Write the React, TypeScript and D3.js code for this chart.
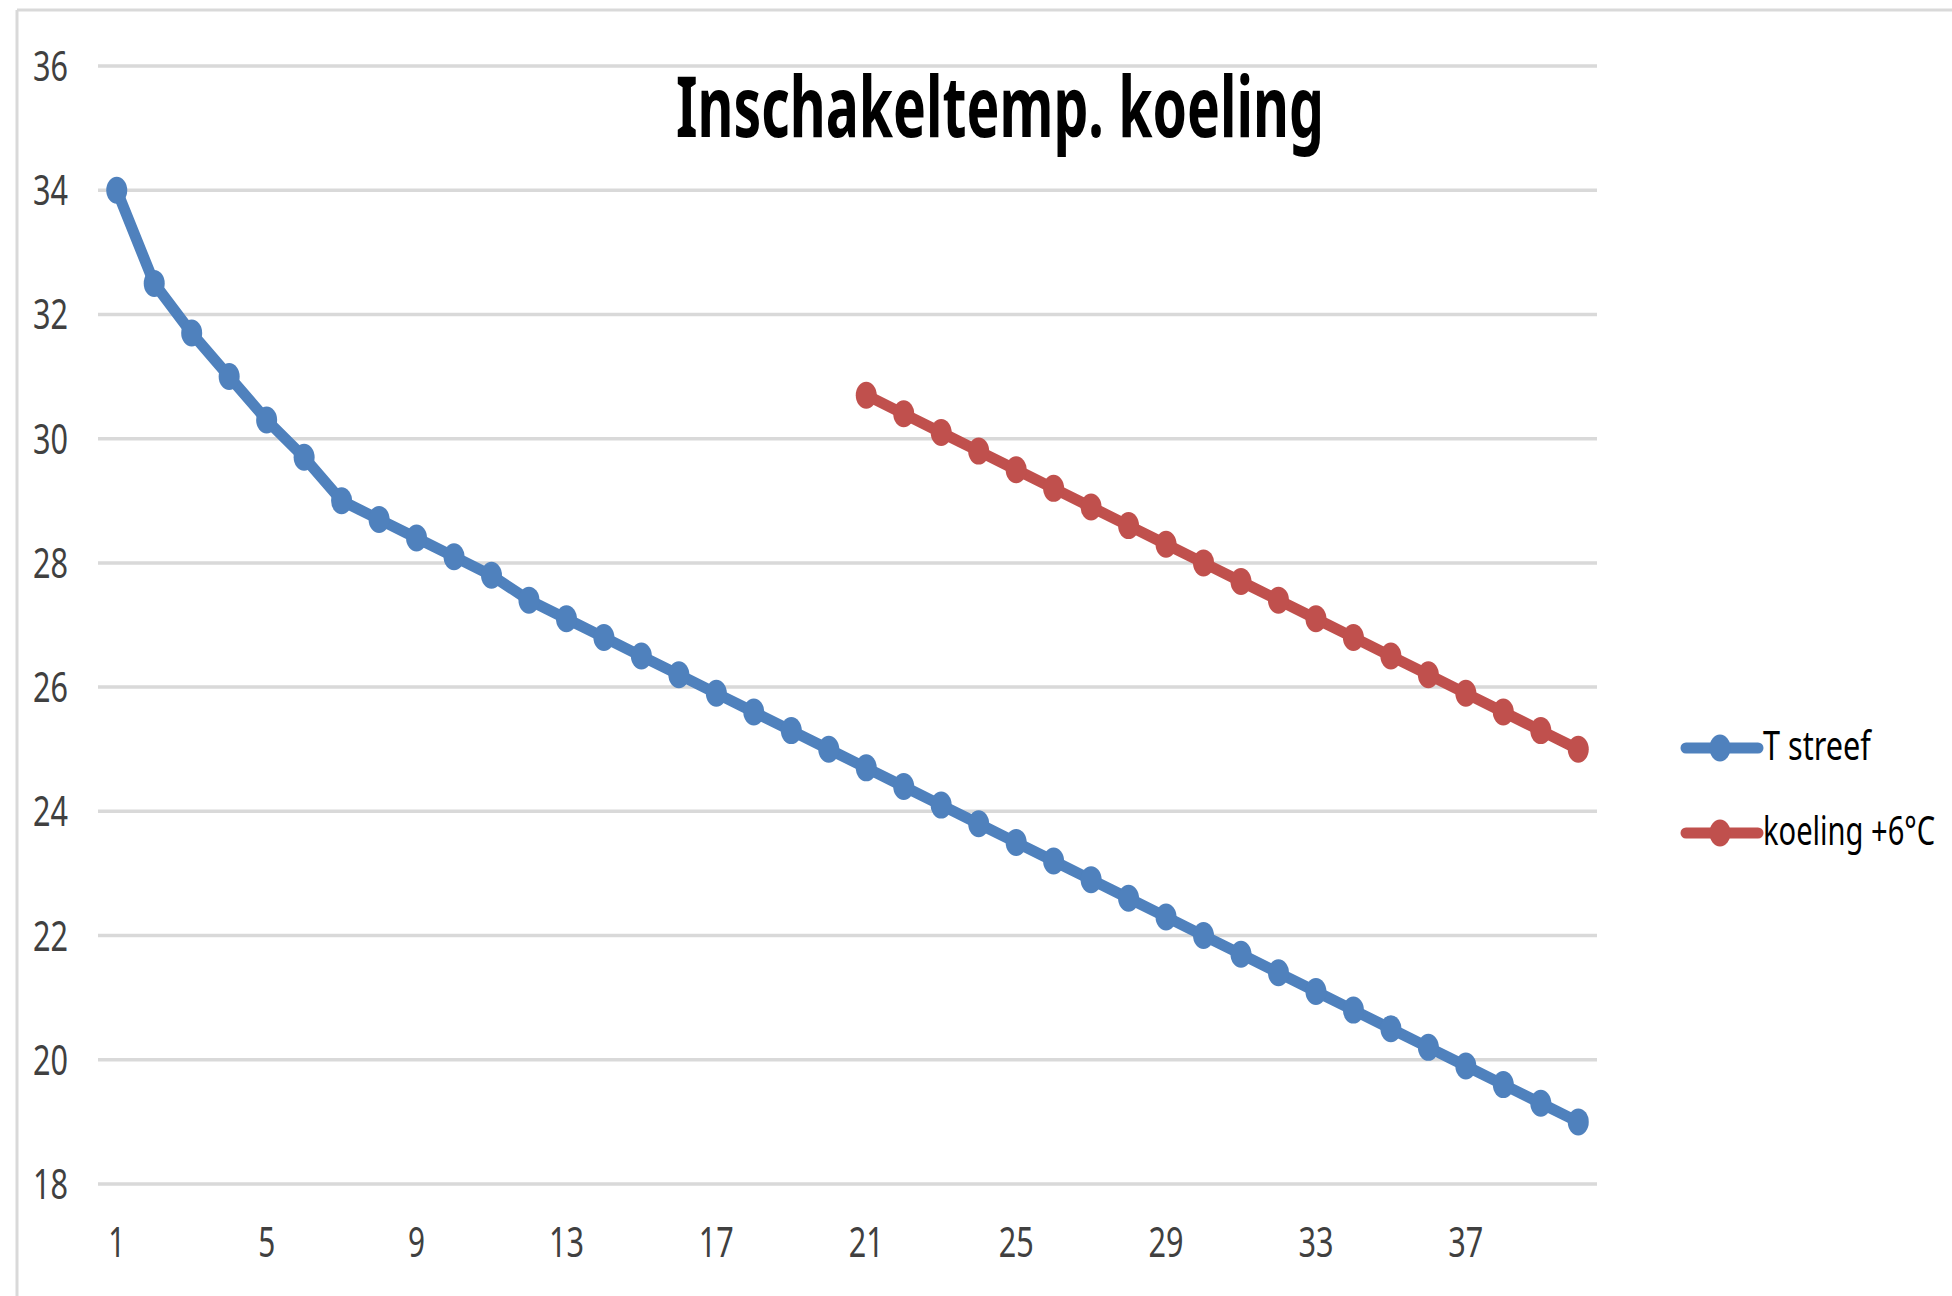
import React from "react";
import * as d3 from "d3";

const categories: number[] = d3.range(1, 41);
const tStreef: number[] = [
  34.0, 32.5, 31.7, 31.0, 30.3, 29.7, 29.0, 28.7, 28.4, 28.1,
  27.8, 27.4, 27.1, 26.8, 26.5, 26.2, 25.9, 25.6, 25.3, 25.0,
  24.7, 24.4, 24.1, 23.8, 23.5, 23.2, 22.9, 22.6, 22.3, 22.0,
  21.7, 21.4, 21.1, 20.8, 20.5, 20.2, 19.9, 19.6, 19.3, 19.0,
];
const koeling: (number | null)[] = [
  null, null, null, null, null, null, null, null, null, null,
  null, null, null, null, null, null, null, null, null, null,
  30.7, 30.4, 30.1, 29.8, 29.5, 29.2, 28.9, 28.6, 28.3, 28.0,
  27.7, 27.4, 27.1, 26.8, 26.5, 26.2, 25.9, 25.6, 25.3, 25.0,
];
const yTicks: number[] = [18, 20, 22, 24, 26, 28, 30, 32, 34, 36];
const xTickLabels: number[] = [1, 5, 9, 13, 17, 21, 25, 29, 33, 37];
const seriesNames: string[] = ["T streef", "koeling +6°C"];
const seriesColors: string[] = ["#4F81BD", "#C0504D"];
const title = "Inschakeltemp. koeling";

const W = 1952;
const H = 1296;
const plotLeft = 98;
const plotRight = 1597;
const yTop = 66;
const yBottom = 1184;
const FONT = "'Noto Sans', 'Open Sans', sans-serif";
const LABEL = "#404040";

export default function App() {
  const x = d3
    .scaleBand<number>()
    .domain(categories)
    .range([plotLeft, plotRight])
    .paddingInner(0)
    .paddingOuter(0);
  const cx = (c: number) => (x(c) as number) + x.bandwidth() / 2;
  const y = d3.scaleLinear().domain([18, 36]).range([yBottom, yTop]);

  const line = d3
    .line<{ c: number; v: number | null }>()
    .defined((d) => d.v !== null)
    .x((d) => cx(d.c))
    .y((d) => y(d.v as number));

  const series = [tStreef, koeling].map((vals) =>
    categories.map((c, i) => ({ c, v: vals[i] as number | null }))
  );

  const legendY = [748, 833];

  return (
    <svg
      width={W}
      height={H}
      style={{ position: "absolute", left: 0, top: 0, background: "#fff" }}
    >
      <rect x={0} y={0} width={W} height={H} fill="#fff" />
      <line x1={17} y1={10} x2={W} y2={10} stroke="#d9d9d9" strokeWidth={3} />
      <line x1={17} y1={10} x2={17} y2={H} stroke="#d9d9d9" strokeWidth={3} />

      {yTicks.map((t) => (
        <line
          key={"g" + t}
          x1={plotLeft}
          x2={plotRight}
          y1={y(t)}
          y2={y(t)}
          stroke="#d9d9d9"
          strokeWidth={3.5}
        />
      ))}

      {yTicks.map((t) => (
        <text
          key={"yl" + t}
          x={68}
          y={y(t) + 15}
          textAnchor="end"
          fontFamily={FONT}
          fontSize={41}
          fill={LABEL}
          textLength={35}
          lengthAdjust="spacingAndGlyphs"
        >
          {t}
        </text>
      ))}

      {xTickLabels.map((t) => (
        <text
          key={"xl" + t}
          x={cx(t)}
          y={1257}
          textAnchor="middle"
          fontFamily={FONT}
          fontSize={41}
          fill={LABEL}
          textLength={String(t).length === 1 ? 17 : 35}
          lengthAdjust="spacingAndGlyphs"
        >
          {t}
        </text>
      ))}

      <text
        x={676}
        y={137}
        fontFamily={FONT}
        fontWeight={700}
        fontSize={84}
        fill="#000"
        textLength={648}
        lengthAdjust="spacingAndGlyphs"
      >
        {title}
      </text>

      {series.map((s, si) => (
        <g key={"s" + si}>
          <path
            d={line(s) || ""}
            fill="none"
            stroke={seriesColors[si]}
            strokeWidth={11}
            strokeLinejoin="round"
            strokeLinecap="round"
          />
          {s
            .filter((d) => d.v !== null)
            .map((d) => (
              <ellipse
                key={"m" + d.c}
                cx={cx(d.c)}
                cy={y(d.v as number)}
                rx={10.5}
                ry={13.5}
                fill={seriesColors[si]}
              />
            ))}
        </g>
      ))}

      {seriesNames.map((n, i) => (
        <g key={"lg" + i}>
          <line
            x1={1686}
            x2={1758}
            y1={legendY[i]}
            y2={legendY[i]}
            stroke={seriesColors[i]}
            strokeWidth={11}
            strokeLinecap="round"
          />
          <ellipse cx={1720} cy={legendY[i]} rx={10.5} ry={13.5} fill={seriesColors[i]} />
          <g transform={`translate(1763, ${legendY[i] + 12}) scale(0.7, 1.4)`}>
            <text
              x={0}
              y={0}
              fontFamily={FONT}
              fontSize={29}
              fill="#000"
              textLength={i === 0 ? 154 : 246}
              lengthAdjust="spacingAndGlyphs"
            >
              {n}
            </text>
          </g>
        </g>
      ))}
    </svg>
  );
}
